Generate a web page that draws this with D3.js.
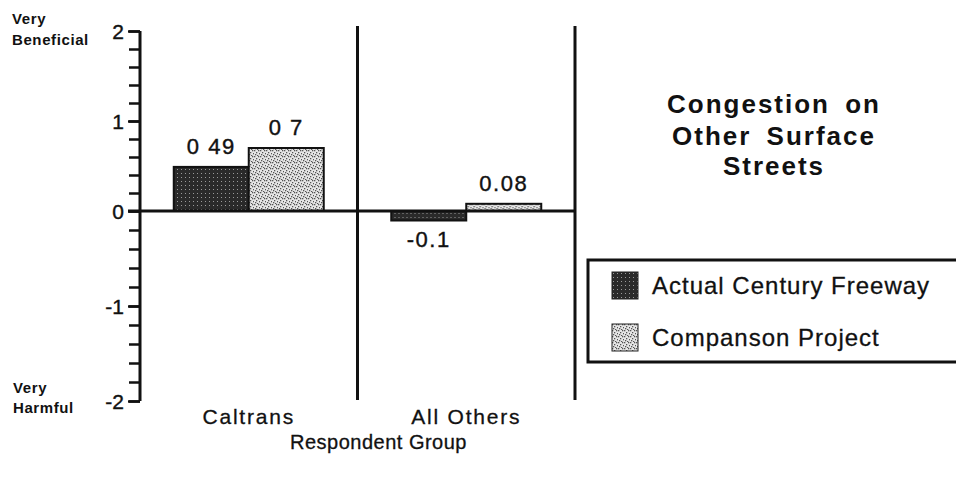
<!DOCTYPE html>
<html><head><meta charset="utf-8">
<script src="https://cdn.jsdelivr.net/npm/d3@7"></script>
<style>body{margin:0;background:#fff}svg{display:block;font-family:"Liberation Sans",Arial,sans-serif}</style>
</head><body><svg id="c" width="956" height="480"></svg>
<script>
const groups = ["Caltrans", "All Others"];
const series = ["Actual Century Freeway", "Companson Project"];
const actualValues = [0.49, -0.1];
const comparisonValues = [0.7, 0.08];
const actualLabels = ["0 49", "-0.1"];
const comparisonLabels = ["0 7", "0.08"];
const majorTicks = [-2, -1, 0, 1, 2];
const minorTicks = d3.range(-2, 2.001, 0.2).map(v => +v.toFixed(1));
const titleLines = ["Congestion on", "Other Surface", "Streets"];

const svg = d3.select("#c");
const defs = svg.append("defs");
const p1 = defs.append("pattern").attr("id","dark").attr("width",4).attr("height",4).attr("patternUnits","userSpaceOnUse");
p1.append("rect").attr("width",4).attr("height",4).attr("fill","#2a2a2a");
p1.append("rect").attr("x",1).attr("y",1).attr("width",1).attr("height",1).attr("fill","#9a9a9a");
const p2 = defs.append("pattern").attr("id","light").attr("width",6).attr("height",6).attr("patternUnits","userSpaceOnUse");
p2.append("rect").attr("width",6).attr("height",6).attr("fill","#e6e6e6");
[[0,0],[2,2],[4,0],[1,4],[5,3],[3,5]].forEach(([a,b])=>p2.append("rect").attr("x",a).attr("y",b).attr("width",1.3).attr("height",1.3).attr("fill","#555"));

const y = d3.scaleLinear().domain([-2,0,2]).range([401,211,31]);
const x = d3.scaleBand().domain(groups).range([140,575]);
const xs = d3.scaleBand().domain(series).range([0,x.bandwidth()]).paddingOuter(0.45);

const axisX = x.range()[0];
const ax = svg.append("g").attr("transform",`translate(${axisX},0)`);
ax.call(d3.axisLeft(y).tickValues(minorTicks).tickSize(11).tickFormat(""))
  .call(g=>g.select(".domain").remove())
  .call(g=>g.selectAll("line").attr("stroke","#111").attr("stroke-width",2.5));
ax.append("g").call(d3.axisLeft(y).tickValues(majorTicks).tickSize(12).tickPadding(4).tickFormat(d=>d3.format("d")(d).replace("−","-")))
  .call(g=>g.select(".domain").remove())
  .call(g=>g.selectAll("line").attr("stroke","#111").attr("stroke-width",2.5))
  .call(g=>g.selectAll("text").attr("font-size",21).attr("fill","#111").attr("stroke","#111").attr("stroke-width",0.4).attr("dy","0.35em").attr("font-family","Liberation Sans, Arial"));
ax.append("line").attr("x1",0).attr("x2",0).attr("y1",y(2)).attr("y2",y(-2)).attr("stroke","#111").attr("stroke-width",3);

[x.range()[0]+x.step(), x.range()[1]].forEach(xx=>{
  svg.append("line").attr("x1",xx).attr("x2",xx).attr("y1",26).attr("y2",400).attr("stroke","#111").attr("stroke-width",3);
});

const rows = groups.map((g,i)=>({g, vals:[
  {s:series[0], v:actualValues[i], lab:actualLabels[i], fill:"url(#dark)"},
  {s:series[1], v:comparisonValues[i], lab:comparisonLabels[i], fill:"url(#light)"}]}));
const gg = svg.append("g").selectAll("g").data(rows).join("g").attr("transform",d=>`translate(${x(d.g)},0)`);
gg.selectAll("rect").data(d=>d.vals).join("rect")
  .attr("x",d=>xs(d.s)).attr("width",xs.bandwidth())
  .attr("y",d=>y(Math.max(0,d.v))).attr("height",d=>Math.abs(y(d.v)-y(0)))
  .attr("fill",d=>d.fill).attr("stroke","#111").attr("stroke-width",2);
gg.selectAll("text").data(d=>d.vals).join("text")
  .attr("x",d=>xs(d.s)+xs.bandwidth()/2)
  .attr("y",d=>d.v>=0? y(d.v)-13 : y(d.v)+26)
  .attr("text-anchor","middle").attr("font-size",22).attr("letter-spacing",1.5)
  .attr("fill","#111").attr("stroke","#111").attr("stroke-width",0.4).text(d=>d.lab);

svg.append("line").attr("x1",axisX-12).attr("x2",x.range()[1]).attr("y1",y(0)).attr("y2",y(0)).attr("stroke","#111").attr("stroke-width",3);

svg.append("g").selectAll("text").data(groups).join("text")
  .attr("x",d=>x(d)+x.bandwidth()/2).attr("y",424).attr("text-anchor","middle").attr("font-size",21).attr("letter-spacing",1.8)
  .attr("fill","#111").attr("stroke","#111").attr("stroke-width",0.3).text(d=>d);
svg.append("text").attr("x",(x.range()[0]+x.range()[1])/2+21).attr("y",449).attr("text-anchor","middle").attr("font-size",20).attr("letter-spacing",0.5)
  .attr("fill","#111").attr("stroke","#111").attr("stroke-width",0.3).text("Respondent Group");

const lab = (t,xx,yy)=>svg.append("text").attr("x",xx).attr("y",yy).attr("font-size",15).attr("letter-spacing",0.6).attr("font-weight","bold").attr("fill","#111").text(t);
lab("Very",12,24); lab("Beneficial",12,45); lab("Very",13,393); lab("Harmful",13,413);

svg.append("g").selectAll("text").data(titleLines).join("text")
  .attr("x",774).attr("y",(d,i)=>[113,145,175][i]).attr("text-anchor","middle")
  .attr("font-size",26).attr("font-weight","bold").attr("letter-spacing",2).attr("word-spacing",6).attr("fill","#111").text(d=>d);

svg.append("rect").attr("x",588).attr("y",260).attr("width",380).attr("height",102).attr("fill","none").attr("stroke","#111").attr("stroke-width",3);
const lg = svg.append("g").selectAll("g").data(series).join("g").attr("transform",(d,i)=>`translate(612,${[272,324][i]})`);
lg.append("rect").attr("width",26).attr("height",27).attr("fill",(d,i)=>i?"url(#light)":"url(#dark)").attr("stroke","#222").attr("stroke-width",1);
lg.append("text").attr("x",40).attr("y",22).attr("font-size",24).attr("letter-spacing",1)
  .attr("fill","#111").attr("stroke","#111").attr("stroke-width",0.3).text(d=>d);
</script></body></html>
